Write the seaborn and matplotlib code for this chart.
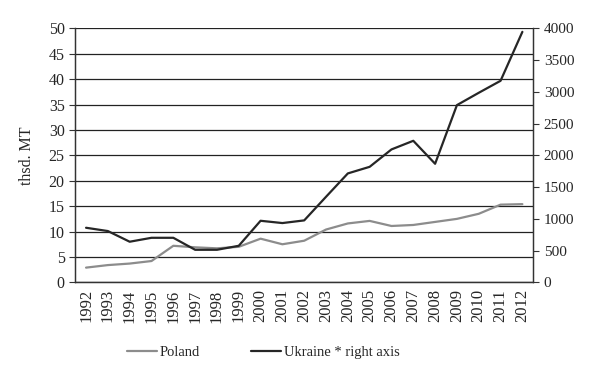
import numpy as np
import pandas as pd
import matplotlib
matplotlib.use("Agg")
import matplotlib.pyplot as plt
import seaborn as sns

# data
years = list(range(1992, 2013))
poland = [2.9, 3.4, 3.7, 4.2, 7.2, 6.9, 6.7, 7.0, 8.6, 7.5, 8.2,
          10.4, 11.6, 12.1, 11.1, 11.3, 11.9, 12.5, 13.5, 15.3, 15.4]
ukraine = [860, 808, 640, 702, 702, 513, 513, 576, 970, 934, 976,
           1348, 1716, 1820, 2094, 2230, 1868, 2792, 2986, 3175, 3946]

df = pd.DataFrame({"year": years, "Poland": poland, "Ukraine": ukraine})

sns.set_style("white")
plt.rcParams["font.family"] = ["Liberation Serif", "DejaVu Serif"]
plt.rcParams["font.size"] = 10.5

fig = plt.figure(figsize=(6.06, 3.79), dpi=100)
ax = fig.add_axes([0.124, 0.255, 0.756, 0.670])
ax2 = ax.twinx()

sns.lineplot(data=df, x="year", y="Poland", ax=ax, color="#8c8c8c", lw=1.6, label="Poland", legend=False)
sns.lineplot(data=df, x="year", y="Ukraine", ax=ax2, color="#262626", lw=1.6,
             label="Ukraine * right axis", legend=False)

ax.set_xlim(1991.5, 2012.5)
ax.set_ylim(0, 50)
ax2.set_ylim(0, 4000)
ax.set_yticks(np.arange(0, 51, 5))
ax2.set_yticks(np.arange(0, 4001, 500))
ax.yaxis.grid(True, color="#222222", lw=0.9)
ax.set_axisbelow(True)

ax.set_xticks(years)
ax.set_xticklabels([str(y) for y in years], rotation=90, fontsize=12)
ax.set_xticks(np.arange(1991.5, 2013, 1), minor=True)
ax.tick_params(axis="x", which="major", length=0, pad=5)
ax.tick_params(axis="x", which="minor", length=4, width=0.8, color="#333333", direction="out")
ax.tick_params(axis="y", length=4, width=0.8, color="#333333", direction="out", left=True, labelsize=11.5)
ax2.tick_params(axis="y", length=4, width=0.8, color="#333333", direction="out", right=True, labelsize=11)
ax.set_xlabel("")
ax.set_ylabel("thsd. MT", labelpad=10, fontsize=11.5)
ax2.set_ylabel("")

for a in (ax, ax2):
    a.spines["top"].set_visible(False)
    for s in ("left", "right", "bottom"):
        a.spines[s].set_color("#333333")
        a.spines[s].set_linewidth(0.9)

h1, l1 = ax.get_legend_handles_labels()
h2, l2 = ax2.get_legend_handles_labels()
fig.legend(h1 + h2, l1 + l2, loc="center", bbox_to_anchor=(0.434, 0.07), ncol=2,
           frameon=False, handlelength=2.1, columnspacing=3.5, handletextpad=0.15)

fig.savefig("out.png", dpi=100)
